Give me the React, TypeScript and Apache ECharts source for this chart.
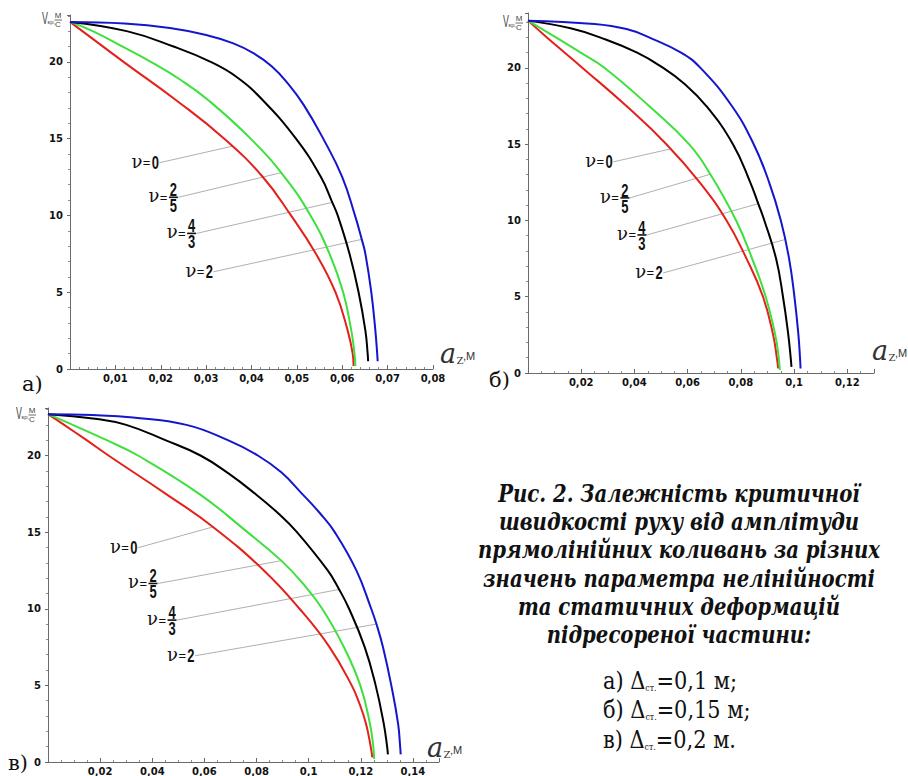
import React, { useEffect, useRef } from "react";
import * as echarts from "echarts";

// ---------- data: a) Δст = 0,1 м ----------
const redA = [[0,22.6],[0.0118,20],[0.0234,17.5],[0.034,15],[0.0425,12.5],[0.0487,10],[0.0542,7.5],[0.0585,5],[0.0612,2.5],[0.0623,1],[0.0625,0.2]];
const greenA = [[0,22.6],[0.005,22],[0.0115,21],[0.0178,20],[0.0245,18.8],[0.0305,17.5],[0.0398,15],[0.0473,12.5],[0.053,10],[0.0572,7.5],[0.0602,5],[0.062,2.5],[0.0627,1],[0.0629,0.2]];
const blackA = [[0,22.6],[0.0125,22],[0.0228,21],[0.031,20],[0.0368,19],[0.0425,17.5],[0.0498,15],[0.0553,12.5],[0.0578,10.85],[0.059,10],[0.0616,7.5],[0.0636,5],[0.0651,2.5],[0.0656,1],[0.0657,0.5]];
const blueA = [[0,22.6],[0.012,22.5],[0.022,22.2],[0.03,21.75],[0.036,21.2],[0.0405,20.55],[0.0445,19.7],[0.048,18.6],[0.0515,17.2],[0.0558,15],[0.06,12.5],[0.0628,10],[0.0643,8.44],[0.0651,7.5],[0.0664,5],[0.0673,2.5],[0.0677,1],[0.0678,0.5]];
const leadStartA = [[0.0197,13.43],[0.0239,11.18],[0.0279,8.83],[0.0316,6.33]];
const leadEndA = [[0.0357,14.5],[0.0465,12.78],[0.0578,10.85],[0.0643,8.44]];

// ---------- data: б) Δст = 0,15 м ----------
const redB = [[0,23.1],[0.0071,22],[0.0138,21],[0.0205,20],[0.037,17.5],[0.052,15],[0.0645,12.5],[0.0746,10],[0.0821,7.5],[0.0883,5],[0.0921,2.5],[0.0935,1],[0.094,0.3]];
const greenB = [[0,23.1],[0.0105,22],[0.0198,21],[0.0288,20],[0.0455,17.5],[0.0605,15],[0.0685,13.03],[0.0782,10],[0.0842,7.5],[0.0893,5],[0.0929,2.5],[0.0942,1],[0.0946,0.2]];
const blackB = [[0,23.1],[0.016,22.6],[0.027,22],[0.041,21],[0.0508,20],[0.0585,19],[0.067,17.5],[0.077,15],[0.0835,12.5],[0.0865,11.1],[0.0888,10],[0.0932,7.5],[0.0958,5],[0.0978,2.5],[0.0987,1],[0.099,0.4]];
const blueB = [[0,23.1],[0.025,22.88],[0.037,22.55],[0.0455,22],[0.0575,21],[0.0648,20],[0.0766,17.5],[0.0848,15],[0.0906,12.5],[0.095,10],[0.0981,7.5],[0.1001,5],[0.1016,2.5],[0.1022,1],[0.1024,0.3]];
const leadStartB = [[0.032,13.84],[0.0383,11.48],[0.0447,9.05],[0.0508,6.56]];
const leadEndB = [[0.0536,14.69],[0.0685,13.03],[0.0865,11.1],[0.0966,8.75]];

// ---------- data: в) Δст = 0,2 м ----------
const redC = [[0,22.7],[0.0062,22],[0.0148,21],[0.0232,20],[0.0452,17.5],[0.0633,15.34],[0.0828,12.5],[0.0965,10],[0.108,7.5],[0.1165,5],[0.1195,3.8],[0.122,2.5],[0.1238,1],[0.1244,0.3]];
const greenC = [[0,22.7],[0.0095,22],[0.0225,21],[0.0345,20],[0.058,17.5],[0.0765,15],[0.0895,13.14],[0.0975,11.7],[0.1052,10],[0.1135,7.5],[0.1198,5],[0.1235,2.5],[0.1248,1],[0.1251,0.2]];
const blackC = [[0,22.7],[0.018,22.4],[0.03,22],[0.045,21],[0.0585,20],[0.0695,18.8],[0.0795,17.5],[0.0885,16.2],[0.0955,15],[0.1073,12.5],[0.1117,11.26],[0.1155,10],[0.1215,7.5],[0.1257,5],[0.1288,2.5],[0.1301,1],[0.1304,0.5]];
const blueC = [[0,22.7],[0.017,22.64],[0.0326,22.48],[0.0531,22],[0.069,21],[0.0805,20],[0.0895,18.9],[0.0975,17.5],[0.1045,16.2],[0.11,15],[0.1183,12.5],[0.124,10],[0.126,9],[0.1285,7.5],[0.1317,5],[0.1343,2.5],[0.1351,1],[0.1353,0.5]];
const leadStartC = [[0.0345,13.98],[0.0422,11.65],[0.0495,9.26],[0.0564,6.93]];
const leadEndC = [[0.0633,15.34],[0.0895,13.14],[0.1117,11.26],[0.126,9.0]];

// ---------- labels / axes ----------
const NU_LABELS = [["0"], ["2", "5"], ["4", "3"], ["2"]];
const X_MAX = [0.08, 0.13, 0.15];
const X_INTERVAL = [0.01, 0.02, 0.02];
const X_MINOR = [5, 4, 4];
const Y_MAX = [23.05, 23.6, 23.1];
const Y_INTERVAL = 5;
const PANEL_LETTERS = ["а)", "б)", "в)"];
const CAPTION_LINES = [
  "Рис. 2. Залежність критичної",
  "швидкості руху від амплітуди",
  "прямолінійних коливань за різних",
  "значень параметра нелінійності",
  "та статичних деформацій",
  "підресореної частини:",
];
const CASE_LETTERS = ["а)", "б)", "в)"];
const CASE_VALUES = ["0,1 м;", "0,15 м;", "0,2 м."];

const COLORS = { red: "#e3201b", green: "#3ee03e", black: "#000000", blue: "#1515cc" };

// layout (pixels)
const GRIDS = [
  { left: 70, top: 15, width: 363, height: 354 },
  { left: 528, top: 13, width: 346, height: 360 },
  { left: 48, top: 408, width: 391, height: 357 },
];
const LETTER_POS = [[22, 384], [489, 380], [8, 763]];
const VTITLE_POS = [[42, 10], [503, 13], [16, 405]];
const AZ_POS = [[440, 363], [872, 360], [427, 757]];

const PANELS = [
  { curves: [redA, greenA, blackA, blueA], starts: leadStartA, ends: leadEndA },
  { curves: [redB, greenB, blackB, blueB], starts: leadStartB, ends: leadEndB },
  { curves: [redC, greenC, blackC, blueC], starts: leadStartC, ends: leadEndC },
];

const SERIF = "DejaVu Serif, serif";
const SANS = "Liberation Sans, DejaVu Sans, sans-serif";

const fmt = (v: number) => String(Math.round(v * 1000) / 1000).replace(".", ",");
const isMult = (v: number, step: number) => Math.abs(v / step - Math.round(v / step)) < 1e-6;

type F = { size: number; family: string; weight?: string; italic?: boolean };
function txt(x: number, y: number, text: string, f: F, align = "left", valign = "middle", extra: any = {}) {
  const { fill, style, ...rest } = extra;
  return {
    type: "text",
    x,
    y,
    silent: true,
    ...rest,
    style: {
      text,
      fontSize: f.size,
      fontFamily: f.family,
      fontWeight: f.weight || "normal",
      fontStyle: f.italic ? "italic" : "normal",
      fill: fill || "#111",
      align,
      verticalAlign: valign,
      ...(style || {}),
    },
  };
}

const DIGIT: F = { size: 18, family: SANS, weight: "bold" };
const EQ: F = { size: 13, family: SANS };
const NU: F = { size: 18, family: SERIF };
function nuLabel(x: number, y: number, parts: string[]) {
  const children: any[] = [];
  if (parts.length === 1) {
    children.push(txt(0, 0, parts[0], DIGIT, "right", "middle", { scaleX: 0.72 }));
    children.push(txt(-8.5, 0, "=", EQ, "right"));
    children.push(txt(-16.5, -1.5, "ν", NU, "right"));
  } else {
    children.push(txt(-4.5, -7.5, parts[0], DIGIT, "center", "middle", { scaleX: 0.72 }));
    children.push({ type: "rect", silent: true, shape: { x: -9, y: -0.8, width: 9, height: 1.6 }, style: { fill: "#111" } });
    children.push(txt(-4.5, 8.5, parts[1], DIGIT, "center", "middle", { scaleX: 0.72 }));
    children.push(txt(-10.5, 0, "=", EQ, "right"));
    children.push(txt(-18.5, -1.5, "ν", NU, "right"));
  }
  return { type: "group", x, y, children };
}

function vTitle(x: number, y: number) {
  return {
    type: "group",
    x,
    y,
    children: [
      txt(0, 0, "V", { size: 16, family: SANS }, "left", "top", { scaleX: 0.55, fill: "#444" }),
      txt(5.5, 9, "кр,", { size: 6, family: SANS }, "left", "top", { fill: "#444" }),
      txt(16, 9.5, "М", { size: 8, family: SANS }, "center", "bottom", { fill: "#444" }),
      { type: "rect", silent: true, shape: { x: 12.5, y: 9.6, width: 7.5, height: 0.8 }, style: { fill: "#444" } },
      txt(16, 10.8, "С", { size: 8, family: SANS }, "center", "top", { fill: "#444" }),
    ],
  };
}

function azTitle(x: number, y: number) {
  return {
    type: "group",
    x,
    y,
    children: [
      txt(0, -9.5, "a", { size: 27, family: SERIF, italic: true }, "left", "middle", { fill: "#333" }),
      txt(16.5, -2.7, "Z", { size: 10, family: SERIF }, "left", "middle", { fill: "#333" }),
      txt(23, -6.8, ",М", { size: 11, family: SANS }, "left", "middle", { fill: "#333" }),
    ],
  };
}

export default function App() {
  const ref = useRef<HTMLDivElement>(null);
  useEffect(() => {
    if (!ref.current) return;
    const chart = echarts.init(ref.current, null, { renderer: "svg" });

    const grid = GRIDS.map((g) => ({ ...g, containLabel: false }));
    const xAxis = [0, 1, 2].map((gi) => ({
      type: "value",
      gridIndex: gi,
      min: 0,
      max: X_MAX[gi],
      interval: X_INTERVAL[gi],
      axisLine: { show: true, onZero: false, lineStyle: { color: "#6a6a6a", width: 1 } },
      axisTick: { show: true, inside: true, length: 4, lineStyle: { color: "#6a6a6a" } },
      minorTick: { show: true, splitNumber: X_MINOR[gi], length: 2, lineStyle: { color: "#8a8a8a" } },
      splitLine: { show: false },
      minorSplitLine: { show: false },
      axisLabel: {
        margin: 4,
        color: "#111",
        fontFamily: "DejaVu Sans",
        fontWeight: "bold",
        fontSize: 10,
        formatter: (v: number) => (v === 0 || !isMult(v, X_INTERVAL[gi]) ? "" : fmt(v)),
      },
    }));
    const yAxis = [0, 1, 2].map((gi) => ({
      type: "value",
      gridIndex: gi,
      min: 0,
      max: Y_MAX[gi],
      interval: Y_INTERVAL,
      axisLine: { show: true, onZero: false, lineStyle: { color: "#6a6a6a", width: 1 } },
      axisTick: { show: true, inside: false, length: 3, lineStyle: { color: "#6a6a6a" } },
      minorTick: { show: true, splitNumber: 5, length: 2, lineStyle: { color: "#8a8a8a" } },
      splitLine: { show: false },
      minorSplitLine: { show: false },
      axisLabel: {
        margin: 7,
        color: "#111",
        fontFamily: "DejaVu Sans",
        fontWeight: "bold",
        fontSize: 10,
        formatter: (v: number) => (!isMult(v, Y_INTERVAL) ? "" : String(v)),
      },
    }));

    const curveColors = [COLORS.red, COLORS.green, COLORS.black, COLORS.blue];
    const series: any[] = [];
    PANELS.forEach((p, gi) => {
      p.starts.forEach((s, i) => {
        series.push({
          type: "line",
          xAxisIndex: gi,
          yAxisIndex: gi,
          data: [s, p.ends[i]],
          symbol: "none",
          silent: true,
          lineStyle: { color: "#8c8c8c", width: 0.7 },
          z: 2,
        });
      });
      p.curves.forEach((c, ci) => {
        series.push({
          type: "line",
          xAxisIndex: gi,
          yAxisIndex: gi,
          data: c,
          symbol: "none",
          showSymbol: false,
          smooth: 0.45,
          silent: true,
          clip: false,
          lineStyle: { color: curveColors[ci], width: 2 },
          z: 3,
        });
      });
    });

    chart.setOption({
      animation: false,
      backgroundColor: "#ffffff",
      grid,
      xAxis,
      yAxis,
      series,
    });

    const graphics: any[] = [];
    PANELS.forEach((p, gi) => {
      p.starts.forEach((s, i) => {
        const px = chart.convertToPixel({ gridIndex: gi } as any, s) as number[];
        graphics.push(nuLabel(px[0] - 0.5, px[1], NU_LABELS[i]));
      });
      graphics.push(vTitle(VTITLE_POS[gi][0], VTITLE_POS[gi][1]));
      graphics.push(azTitle(AZ_POS[gi][0], AZ_POS[gi][1]));
      graphics.push(txt(LETTER_POS[gi][0], LETTER_POS[gi][1], PANEL_LETTERS[gi], { size: 21, family: SERIF }, "left", "middle"));
    });
    CAPTION_LINES.forEach((line, i) => {
      graphics.push(
        txt(679, 493 + 28.3 * i, line, { size: 24, family: SERIF, weight: "bold", italic: true }, "center", "middle", {
          scaleX: 0.82,
        })
      );
    });
    CASE_LETTERS.forEach((l, i) => {
      graphics.push({
        type: "text",
        x: 603,
        y: 680 + 29.5 * i,
        scaleX: 0.87,
        silent: true,
        style: {
          text: `${l} Δ{s|ст.}=${CASE_VALUES[i]}`,
          fontSize: 24,
          fontFamily: SERIF,
          fill: "#111",
          align: "left",
          verticalAlign: "middle",
          rich: { s: { fontSize: 9, fontFamily: SERIF, verticalAlign: "bottom", fill: "#111" } },
        },
      });
    });
    chart.setOption({ graphic: { elements: graphics } });

    return () => chart.dispose();
  }, []);
  return (
    <div
      ref={ref}
      style={{ position: "absolute", left: 0, top: 0, width: 908, height: 776, background: "#fff" }}
    />
  );
}
